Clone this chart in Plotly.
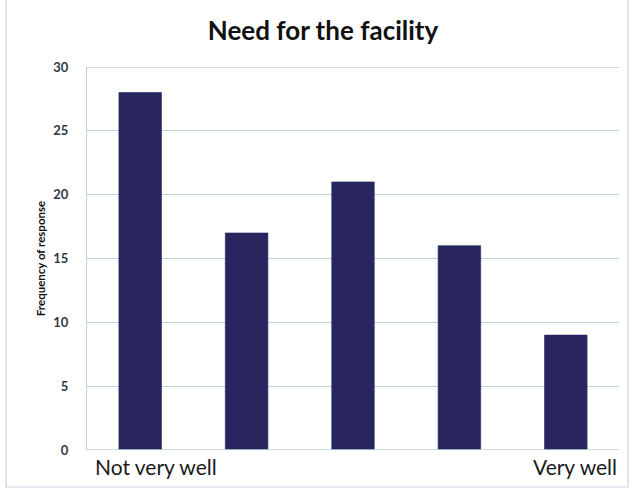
import plotly.graph_objects as go

# Survey responses on the need for the facility (1 = not very well ... 5 = very well)
categories = [1, 2, 3, 4, 5]
frequency = [28, 17, 21, 16, 9]
y_ticks = [0, 5, 10, 15, 20, 25, 30]
end_labels = ["Not very well", "Very well"]

BAR = "#29265f"
GRID = "#bcd3df"
FRAME = "#ccd8df"

fig = go.Figure(
    go.Bar(
        x=categories,
        y=frequency,
        width=0.4,
        marker=dict(color=BAR, line=dict(color="#1f2a5c", width=0.6)),
        hoverinfo="x+y",
    )
)

L, R, T, B = 87, 17, 67, 39
W, H = 636, 489

fig.update_layout(
    width=W,
    height=H,
    margin=dict(l=L, r=R, t=T, b=B),
    paper_bgcolor="white",
    plot_bgcolor="white",
    showlegend=False,
    title=dict(
        text="<b>Need for the facility</b>",
        x=323 / W,
        xanchor="center",
        y=1 - 31 / H,
        yanchor="middle",
        font=dict(family="Lato", size=26, color="#111111"),
    ),
    xaxis=dict(
        range=[0.5, 5.5],
        showticklabels=False,
        ticks="",
        showgrid=False,
        zeroline=False,
        showline=False,
    ),
    yaxis=dict(
        range=[0, 30],
        tickvals=y_ticks,
        ticktext=[f"<b>{v}</b>" for v in y_ticks],
        tickfont=dict(family="Lato", size=13, color="#2e3a48"),
        ticks="",
        ticklabelstandoff=15,
        showgrid=True,
        gridcolor=GRID,
        gridwidth=1.3,
        zeroline=False,
        showline=True,
        linecolor=GRID,
        linewidth=1.3,
        mirror=False,
        title=dict(
            text="<b>Frequency of response</b>",
            font=dict(family="Lato", size=11.5, color="#111111"),
            standoff=5,
        ),
    ),
)

# Bottom axis line and top gridline at the range edges
for level in (y_ticks[0], y_ticks[-1]):
    fig.add_shape(type="line", xref="paper", yref="y", x0=0, x1=1, y0=level, y1=level,
                  line=dict(color=GRID, width=1.5))

# Scale end labels under the first and last bars
fig.add_annotation(x=categories[0] - 0.44, y=-0.044, xref="x", yref="paper",
                   text=end_labels[0], showarrow=False, xanchor="left", yanchor="middle",
                   font=dict(family="Lato", size=21, color="#1a1a1a"))
fig.add_annotation(x=categories[-1] + 0.5, y=-0.044, xref="x", yref="paper",
                   text=end_labels[1], showarrow=False, xanchor="right", yanchor="middle",
                   font=dict(family="Lato", size=21, color="#1a1a1a"))

# Chart frame around the figure
pw, ph = W - L - R, H - T - B
fx0, fx1 = (6 - L) / pw, (628 - L) / pw
fy0, fy1 = (H - B - 487) / ph, (H - B + 5) / ph
fig.add_shape(type="rect", xref="paper", yref="paper", x0=fx0, x1=fx1, y0=fy0, y1=fy1,
              line=dict(color=FRAME, width=1.2), layer="below")

fig.write_html("out.html")
